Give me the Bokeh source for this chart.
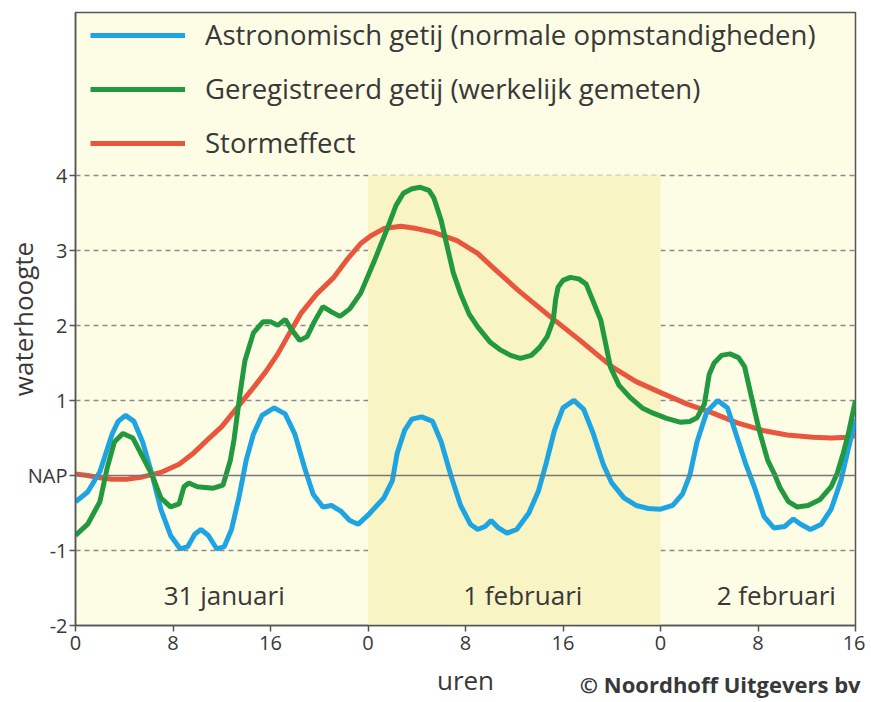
import numpy as np
from bokeh.plotting import figure
from bokeh.models import (Range1d, FixedTicker, Legend, LegendItem, Label, Span,
                          BoxAnnotation, LinearAxis)
from bokeh.embed import file_html
from bokeh.resources import INLINE

# ---- data (hours since 31 Jan 00:00, water height in m relative to NAP) ----
astro_x = [0, 1, 2, 3, 3.5, 4.1, 4.8, 5.5, 6.3, 7.0, 7.8, 8.6, 9.2, 9.8, 10.3, 10.9,
           11.6, 12.2, 12.8, 13.4, 14.0, 14.6, 15.3, 16.3, 17.2, 18.0, 18.8, 19.5,
           20.3, 21.0, 21.8, 22.5, 23.2, 24.0, 25.3, 26.0, 26.4, 27.0, 27.6, 28.4,
           29.3, 30.0, 30.8, 31.6, 32.4, 33.0, 33.6, 34.1, 34.7, 35.4, 36.2, 37.2,
           38.0, 38.6, 39.3, 40.0, 40.9, 41.7, 42.5, 43.3, 44.0, 45.0, 46.0, 47.0,
           48.0, 49.0, 49.8, 50.4, 51.0, 51.8, 52.7, 53.5, 54.3, 55.0, 55.8, 56.5,
           57.3, 58.2, 58.9, 59.5, 60.3, 61.2, 62.0, 62.8, 63.4, 64.0]
astro_y = [-0.35, -0.22, 0.05, 0.55, 0.72, 0.80, 0.72, 0.45, 0.0, -0.45, -0.80, -0.98,
           -0.95, -0.78, -0.72, -0.80, -0.98, -0.95, -0.72, -0.30, 0.20, 0.55, 0.80,
           0.90, 0.82, 0.55, 0.10, -0.25, -0.42, -0.40, -0.48, -0.60, -0.65, -0.53,
           -0.30, -0.07, 0.30, 0.60, 0.75, 0.78, 0.72, 0.45, 0.0, -0.40, -0.65, -0.72,
           -0.68, -0.60, -0.70, -0.77, -0.72, -0.50, -0.20, 0.15, 0.60, 0.90, 1.0,
           0.88, 0.55, 0.15, -0.10, -0.30, -0.40, -0.44, -0.45, -0.40, -0.25, 0.0,
           0.45, 0.85, 1.0, 0.90, 0.50, 0.15, -0.20, -0.55, -0.70, -0.68, -0.58,
           -0.65, -0.72, -0.65, -0.45, -0.07, 0.35, 0.75]

meas_x = [0, 1, 2, 2.6, 3.2, 3.9, 4.7, 5.5, 6.3, 7.0, 7.8, 8.5, 8.9, 9.3, 10.0, 11.3,
          12.1, 12.7, 13.0, 13.5, 13.9, 14.6, 15.4, 16.0, 16.6, 17.2, 17.7, 18.4, 19.0,
          19.6, 20.3, 21.0, 21.7, 22.5, 23.4, 24.5, 25.6, 26.3, 26.9, 27.6, 28.3, 29.0,
          29.4, 30.0, 30.5, 31.0, 31.6, 32.3, 33.0, 34.0, 34.9, 35.7, 36.5, 37.4, 38.1,
          38.7, 39.2, 39.4, 39.6, 40.0, 40.6, 41.3, 41.9, 42.4, 43.1, 43.9, 44.6, 45.5,
          46.5, 47.4, 48.5, 49.6, 50.4, 51.0, 51.6, 52.0, 52.4, 53.0, 53.7, 54.4, 54.9,
          55.4, 56.1, 56.8, 57.4, 57.8, 58.5, 59.2, 60.1, 61.1, 62.0, 62.5, 63.0, 63.4,
          64.0]
meas_y = [-0.80, -0.65, -0.35, 0.10, 0.45, 0.56, 0.50, 0.25, 0.0, -0.30, -0.42, -0.38,
          -0.15, -0.10, -0.15, -0.17, -0.13, 0.20, 0.47, 1.09, 1.53, 1.90, 2.05, 2.05,
          2.0, 2.08, 1.95, 1.80, 1.85, 2.05, 2.25, 2.18, 2.12, 2.22, 2.43, 2.85, 3.30,
          3.60, 3.76, 3.82, 3.84, 3.80, 3.70, 3.40, 3.05, 2.70, 2.42, 2.15, 1.98, 1.78,
          1.67, 1.60, 1.56, 1.60, 1.71, 1.85, 2.07, 2.35, 2.51, 2.60, 2.64, 2.62, 2.55,
          2.35, 2.07, 1.44, 1.20, 1.04, 0.90, 0.83, 0.76, 0.71, 0.72, 0.77, 0.95, 1.35,
          1.50, 1.60, 1.62, 1.57, 1.45, 1.09, 0.60, 0.20, 0.0, -0.16, -0.35, -0.42,
          -0.40, -0.32, -0.15, 0.03, 0.30, 0.55, 1.0]

storm_x = [0, 1, 2, 3, 4.2, 5.5, 7.0, 8.5, 9.7, 10.8, 12.0, 13.0, 14.6, 15.6, 16.6, 17.5,
           18.5, 19.8, 21.2, 22.3, 23.4, 24.3, 25.3, 26.7, 28.0, 29.4, 31.3, 33.0, 34.6,
           36.3, 39.0, 41.4, 43.1, 44.1, 46.0, 48.2, 50.2, 52.3, 54.3, 56.4, 58.4, 60.5,
           62.0, 63.3, 64.0]
storm_y = [0.02, 0.0, -0.03, -0.05, -0.05, -0.02, 0.04, 0.15, 0.30, 0.47, 0.65, 0.85,
           1.17, 1.38, 1.62, 1.88, 2.16, 2.42, 2.64, 2.88, 3.09, 3.20, 3.29, 3.32, 3.29,
           3.24, 3.13, 2.96, 2.72, 2.47, 2.11, 1.80, 1.57, 1.44, 1.25, 1.09, 0.95, 0.83,
           0.70, 0.60, 0.54, 0.51, 0.50, 0.51, 0.53]

x_ticks = [0, 8, 16, 24, 32, 40, 48, 56, 64]
x_tick_labels = ["0", "8", "16", "0", "8", "16", "0", "8", "16"]
y_ticks = [-2, -1, 0, 1, 2, 3, 4]
y_tick_labels = ["-2", "-1", "NAP", "1", "2", "3", "4"]
grid_levels = [-1, 1, 2, 3, 4]
day_labels = ["31 januari", "1 februari", "2 februari"]
day_label_x = [12.2, 36.7, 57.5]
series_names = ["Astronomisch getij (normale opmstandigheden)",
                "Geregistreerd getij (werkelijk gemeten)",
                "Stormeffect"]
credit_text = "© Noordhoff Uitgevers bv"
credit_x = 53.7

FONT = "Open Sans"
TXT = "#383838"
BLUE = "#1fa4e2"
GREEN = "#22993f"
RED = "#e8573d"

p = figure(frame_width=780, frame_height=613, output_backend="svg",
           toolbar_location=None, x_range=Range1d(0, 64), y_range=Range1d(-2, 6.17),
           min_border_left=75, min_border_top=12, min_border_right=10,
           min_border_bottom=70)
p.background_fill_color = "#fdfce4"
p.border_fill_color = "white"
p.outline_line_color = "#555555"
p.outline_line_width = 1.5

p.add_layout(BoxAnnotation(left=24, right=48, bottom=-2, top=4,
                           fill_color="#f8f4c4", fill_alpha=1.0, line_alpha=0,
                           level="underlay"))

p.xgrid.visible = False
p.ygrid.ticker = FixedTicker(ticks=grid_levels)
p.ygrid.grid_line_color = "#8a8a8a"
p.ygrid.grid_line_dash = "5 4"
p.ygrid.grid_line_width = 1.3

p.add_layout(Span(location=0, dimension="width", line_color="#777777",
                  line_width=1.5))

r_storm = p.line(storm_x, storm_y, line_color=RED, line_width=5)
r_astro = p.line(astro_x, astro_y, line_color=BLUE, line_width=5)
r_meas = p.line(meas_x, meas_y, line_color=GREEN, line_width=5)

xax = p.xaxis[0]
yax = p.yaxis[0]
for ax in (xax, yax):
    ax.axis_line_color = "#555555"
    ax.axis_line_width = 1.5
    ax.major_tick_line_color = "#555555"
    ax.major_tick_line_width = 1.5
    ax.minor_tick_line_color = None
    ax.major_label_text_font = FONT
    ax.major_label_text_font_size = "20px"
    ax.major_label_text_color = TXT
    ax.major_tick_in = 0
    ax.major_tick_out = 6
    ax.axis_label_text_font = FONT
    ax.axis_label_text_font_size = "26px"
    ax.axis_label_text_font_style = "normal"
    ax.axis_label_text_color = TXT

xax.ticker = FixedTicker(ticks=x_ticks)
xax.major_label_overrides = dict(zip(x_ticks, x_tick_labels))
xax.major_label_standoff = 4

yax.ticker = FixedTicker(ticks=y_ticks)
yax.major_label_overrides = dict(zip(y_ticks, y_tick_labels))
yax.major_label_standoff = 2
yax.axis_label = "waterhoogte"
yax.axis_label_standoff = -16

# second (line-less) axis below carrying "uren" and the credit line
ax2 = LinearAxis(ticker=FixedTicker(ticks=[credit_x]),
                 major_label_overrides={credit_x: credit_text})
ax2.axis_line_color = None
ax2.major_tick_line_color = None
ax2.minor_tick_line_color = None
ax2.major_tick_in = 0
ax2.major_tick_out = 0
ax2.major_label_standoff = 16
ax2.major_label_text_font = FONT
ax2.major_label_text_font_size = "22px"
ax2.major_label_text_font_style = "bold"
ax2.major_label_text_color = TXT
ax2.axis_label = "uren"
ax2.axis_label_standoff = -40
ax2.axis_label_text_font = FONT
ax2.axis_label_text_font_size = "26px"
ax2.axis_label_text_font_style = "normal"
ax2.axis_label_text_color = TXT
p.add_layout(ax2, "below")

for name, xc in zip(day_labels, day_label_x):
    p.add_layout(Label(x=xc, y=-1.6, text=name, text_align="center",
                       text_baseline="middle", text_font=FONT,
                       text_font_size="26px", text_color=TXT))

legend = Legend(items=[LegendItem(label=series_names[0], renderers=[r_astro]),
                       LegendItem(label=series_names[1], renderers=[r_meas]),
                       LegendItem(label=series_names[2], renderers=[r_storm])],
                location=(6, 455))
legend.background_fill_alpha = 0
legend.border_line_alpha = 0
legend.margin = 0
legend.padding = 9
legend.glyph_width = 95
legend.glyph_height = 20
legend.label_height = 20
legend.label_standoff = 20
legend.spacing = 17
legend.label_text_font = FONT
legend.label_text_font_size = "27.5px"
legend.label_text_color = TXT
p.add_layout(legend)

open("out.html", "w").write(file_html(p, INLINE))
